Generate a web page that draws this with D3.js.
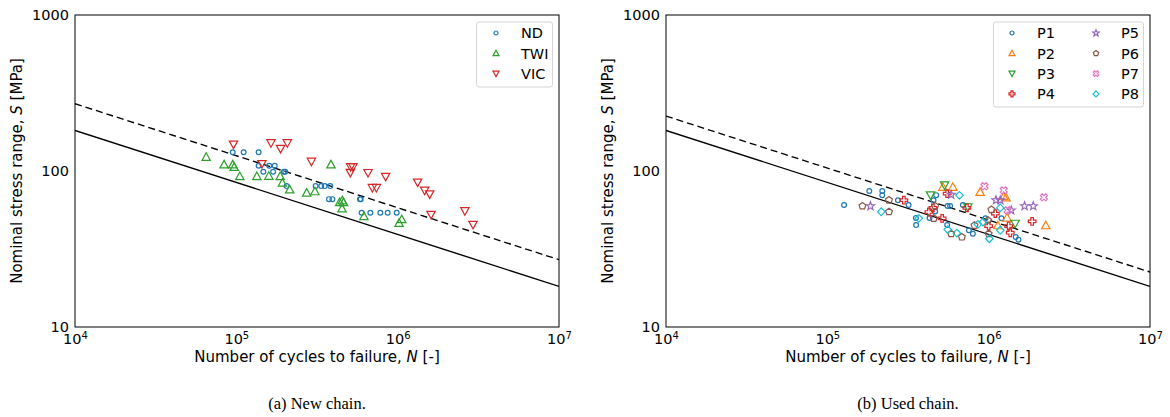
<!DOCTYPE html>
<html><head><meta charset="utf-8">
<script src="https://cdn.jsdelivr.net/npm/d3@7"></script>
<style>body{margin:0;background:#fff} svg{display:block}</style>
</head><body>
<svg id="c" width="1170" height="417"></svg>
<script>
// ---------- data ----------
const curveN = [1e4, 1e7];
const newSolidS = [182, 18.2];
const newDashS  = [270, 27.0];
const usedSolidS = [182, 18.2];
const usedDashS  = [225, 22.5];

const ND = [[9.5e4,132],[1.11e5,132],[1.375e5,132],[1.375e5,108],[1.6e5,108],[1.73e5,108],
  [1.47e5,99],[1.69e5,99],[1.97e5,99],[2.01e5,99],[2.05e5,80],[3.1e5,80],[3.36e5,80],[3.53e5,80],
  [3.82e5,80],[3.75e5,66],[3.94e5,66],[5.84e5,66],[5.9e5,66],[5.98e5,54],[6.77e5,54],[7.81e5,54],
  [8.67e5,54],[9.86e5,54]];
const TWI = [[6.5e4,123],[8.4e4,110],[9.5e4,110],[9.7e4,106],[1.05e5,92.5],[1.34e5,92.5],[1.59e5,93],
  [1.87e5,92.5],[1.93e5,84],[2.14e5,76],[2.73e5,72.5],[3.07e5,74],[3.86e5,110],[4.37e5,63],[4.54e5,64.7],
  [4.62e5,63],[4.52e5,57.4],[6.18e5,51.2],[1.02e6,46.4],[1.06e6,49]];
const VIC = [[9.6e4,148],[1.44e5,111],[1.64e5,151],[1.88e5,139],[2.07e5,151],[2.92e5,115],[5.11e5,106],
  [5.28e5,106],[5.09e5,97.5],[6.55e5,97.3],[8.42e5,92],[6.97e5,78],[7.38e5,78],[1.33e6,84.5],[1.47e6,75],
  [1.58e6,71],[1.61e6,52.5],[2.61e6,55.4],[2.93e6,45.3]];

const P1 = [[1.27e5,60.5],[1.82e5,74.5],[2.19e5,74.5],[2.19e5,70],[2.74e5,65],[3.19e5,60.5],[3.54e5,50],
  [3.55e5,45],[4.3e5,50],[4.55e5,65],[4.73e5,70],[4.66e5,55],[5.56e5,59.6],[5.77e5,59.6],[5.53e5,45],
  [6.92e5,60.5],[7.54e5,41.7],[7.98e5,39.6],[9.55e5,49.7],[1.2e6,49.7],[1.47e6,37.7],[1.53e6,36.3]];
const P2 = [[5.2e5,79],[6.0e5,79],[8.85e5,73.3],[1.24e6,68.8],[1.28e6,67.6],[1.3e6,50.2],[1.14e6,44.8],[2.26e6,44.8]];
const P3 = [[5.33e5,81],[4.36e5,70],[7.43e5,58.7],[1.46e6,46]];
const P4 = [[2.98e5,65],[4.26e5,54.6],[4.51e5,58],[5.15e5,49.7],[5.53e5,71.6],[7.33e5,58],[1.0e6,44.4],
  [1.1e6,53.3],[1.33e6,44.4],[1.36e6,40.2],[1.86e6,47.5]];
const P5 = [[1.85e5,59.6],[5.86e5,70.5],[1.11e6,65],[1.18e6,65],[1.38e6,56],[1.67e6,59.6],[1.89e6,59.6]];
const P6 = [[1.65e5,59.6],[2.41e5,65],[2.41e5,54.8],[4.66e5,59.6],[4.57e5,49.7],[5.86e5,39.6],[6.82e5,37.7],
  [8.17e5,44.8],[9.9e5,48.3],[1.0e6,39.6],[1.04e6,56.5]];
const P7 = [[9.42e5,79.8],[1.24e6,75.2],[2.2e6,67.8],[1.31e6,56]];
const P8 = [[2.16e5,54.8],[3.69e5,49.7],[5.58e5,42.1],[6.35e5,40],[6.59e5,69.8],[8.57e5,45.5],[9.2e5,47],
  [1.01e6,36.8],[1.18e6,58],[1.18e6,41.7]];

const xTicks = [1e4,1e5,1e6,1e7];
const yTicks = [10,100,1000];
const newNames = ["ND","TWI","VIC"];
const usedNames = ["P1","P2","P3","P4","P5","P6","P7","P8"];

// ---------- helpers ----------
function poly(pts){ return "M" + pts.map(p=>p[0].toFixed(2)+","+p[1].toFixed(2)).join("L") + "Z"; }
function markerPath(type, s){
  if(type==="o"){ const p=d3.path(); p.arc(0,0,s,0,2*Math.PI); p.closePath(); return p.toString(); }
  if(type==="^") return poly([[0,-s],[s,s*0.8],[-s,s*0.8]]);
  if(type==="v") return poly([[0,s],[s,-s*0.8],[-s,-s*0.8]]);
  if(type==="D") return poly([[0,-s],[s,0],[0,s],[-s,0]]);
  if(type==="P"||type==="X"){
    const a=s/3;
    let pts=[[-a,-s],[a,-s],[a,-a],[s,-a],[s,a],[a,a],[a,s],[-a,s],[-a,a],[-s,a],[-s,-a],[-a,-a]];
    if(type==="X"){ const c=Math.SQRT1_2; pts=pts.map(([x,y])=>[(x-y)*c,(x+y)*c]); }
    return poly(pts);
  }
  if(type==="*"){
    const pts=[]; for(let i=0;i<10;i++){ const r=i%2?s*0.42:s; const ang=-Math.PI/2+i*Math.PI/5; pts.push([r*Math.cos(ang),r*Math.sin(ang)]); }
    return poly(pts);
  }
  if(type==="p"){
    const pts=[]; for(let i=0;i<5;i++){ const ang=-Math.PI/2+i*2*Math.PI/5; pts.push([s*Math.cos(ang),s*Math.sin(ang)]); }
    return poly(pts);
  }
}

const svg = d3.select("#c");
const FONT = "DejaVu Sans, sans-serif";
const FS = 14.5;

function panel(opt){
  const x = d3.scaleLog().domain([1e4,1e7]).range([opt.x0,opt.x1]);
  const y = d3.scaleLog().domain([10,1000]).range([327,15]);
  const g = svg.append("g");
  const clipId = "clip"+opt.id;
  g.append("clipPath").attr("id",clipId).append("rect")
    .attr("x",opt.x0).attr("y",15).attr("width",opt.x1-opt.x0).attr("height",312);
  const plot = g.append("g").attr("clip-path",`url(#${clipId})`);

  const line = d3.line().x(d=>x(d[0])).y(d=>y(d[1]));
  plot.append("path").attr("d",line(curveN.map((n,i)=>[n,opt.solid[i]])))
    .attr("fill","none").attr("stroke","#000").attr("stroke-width",1.4);
  plot.append("path").attr("d",line(curveN.map((n,i)=>[n,opt.dash[i]])))
    .attr("fill","none").attr("stroke","#000").attr("stroke-width",1.4).attr("stroke-dasharray","7,4");

  opt.series.forEach(s=>{
    plot.append("g").selectAll("path").data(s.data).join("path")
      .attr("transform",d=>`translate(${x(d[0])},${y(d[1])})`)
      .attr("d",markerPath(s.m,s.size))
      .attr("fill","none").attr("stroke",s.c).attr("stroke-width",1.2);
  });

  // axes (no visible tick marks in reference)
  const xa = g.append("g").attr("transform","translate(0,327)")
    .call(d3.axisBottom(x).tickValues(xTicks).tickSize(0).tickPadding(3).tickFormat(()=>""));
  xa.select(".domain").remove();
  xa.selectAll(".tick text").each(function(d){
    const t=d3.select(this).attr("font-family",FONT).attr("font-size",FS).attr("fill","#000").attr("dy","0.95em");
    t.append("tspan").text("10");
    t.append("tspan").attr("dy","-0.45em").attr("font-size",10).text(Math.round(Math.log10(d)));
  });
  const ya = g.append("g").attr("transform",`translate(${opt.x0},0)`)
    .call(d3.axisLeft(y).tickValues(yTicks).tickSize(0).tickPadding(6).tickFormat(d3.format("d")));
  ya.select(".domain").remove();
  ya.selectAll(".tick text").attr("font-family",FONT).attr("font-size",FS).attr("fill","#000");

  g.append("rect").attr("x",opt.x0).attr("y",15).attr("width",opt.x1-opt.x0).attr("height",312)
    .attr("fill","none").attr("stroke","#000").attr("stroke-width",1);

  // labels
  const cx=(opt.x0+opt.x1)/2;
  const xl = g.append("text").attr("x",cx).attr("y",362).attr("text-anchor","middle")
    .attr("font-family",FONT).attr("font-size",15);
  xl.append("tspan").text("Number of cycles to failure, ");
  xl.append("tspan").attr("font-style","italic").text("N");
  xl.append("tspan").text(" [-]");
  const yl = g.append("text").attr("transform",`translate(${opt.x0-53},171) rotate(-90)`).attr("text-anchor","middle")
    .attr("font-family",FONT).attr("font-size",15);
  yl.append("tspan").text("Nominal stress range, ");
  yl.append("tspan").attr("font-style","italic").text("S");
  yl.append("tspan").text(" [MPa]");
  g.append("text").attr("x",cx).attr("y",409).attr("text-anchor","middle")
    .attr("font-family","Liberation Serif, serif").attr("font-size",16.5).text(opt.caption);

  // legend
  const L = opt.legend;
  const lg = g.append("g");
  lg.append("rect").attr("x",L.x).attr("y",L.y).attr("width",L.w).attr("height",L.h).attr("rx",2.5)
    .attr("fill","#fff").attr("fill-opacity",0.85).attr("stroke","#d5d5d5").attr("stroke-width",1);
  opt.series.forEach((s,i)=>{
    const col = Math.floor(i/L.rows), row = i%L.rows;
    const mx = L.mx + col*L.colW, my = L.y + 11 + row*20.3;
    lg.append("path").attr("transform",`translate(${mx},${my})`).attr("d",markerPath(s.m,s.lsize))
      .attr("fill","none").attr("stroke",s.c).attr("stroke-width",1.2);
    lg.append("text").attr("x",mx+25).attr("y",my).attr("dy","0.36em")
      .attr("font-family",FONT).attr("font-size",FS).text(opt.names[i]);
  });
}

const C = ["#1f77b4","#ff7f0e","#2ca02c","#d62728","#9467bd","#8c564b","#e377c2","#17becf"];

panel({id:"a", x0:75, x1:559, solid:newSolidS, dash:newDashS, caption:"(a) New chain.", names:newNames,
  series:[{data:ND,m:"o",c:C[0],size:2.4,lsize:2},{data:TWI,m:"^",c:C[2],size:4.2,lsize:3},{data:VIC,m:"v",c:C[3],size:4.2,lsize:3}],
  legend:{x:476.5,y:22,w:76,h:65,rows:3,mx:496,colW:0}});

panel({id:"b", x0:666, x1:1150, solid:usedSolidS, dash:usedDashS, caption:"(b) Used chain.", names:usedNames,
  series:[{data:P1,m:"o",c:C[0],size:2.4,lsize:2},{data:P2,m:"^",c:C[1],size:4.2,lsize:3},{data:P3,m:"v",c:C[2],size:4.2,lsize:3},
    {data:P4,m:"P",c:C[3],size:3.8,lsize:3},{data:P5,m:"*",c:C[4],size:4.3,lsize:3.4},{data:P6,m:"p",c:C[5],size:3.6,lsize:2.8},
    {data:P7,m:"X",c:C[6],size:3.8,lsize:3},{data:P8,m:"D",c:C[7],size:3.8,lsize:3}],
  legend:{x:993.5,y:22,w:150,h:85,rows:4,mx:1012,colW:84}});
</script></body></html>
